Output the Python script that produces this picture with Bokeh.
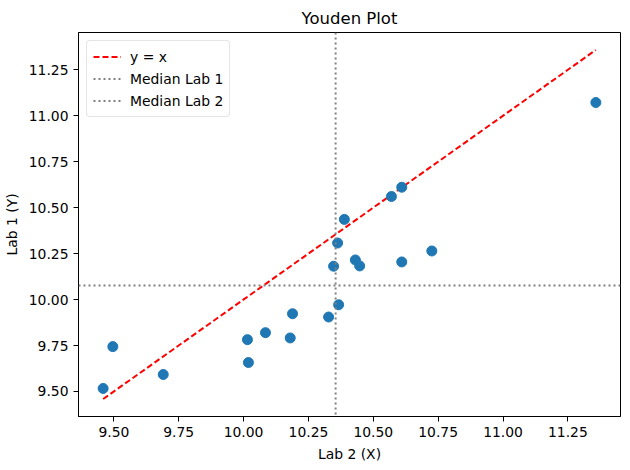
import numpy as np
from bokeh.plotting import figure
from bokeh.models import FixedTicker, PrintfTickFormatter, Range1d, Span, Legend, LegendItem
from bokeh.embed import file_html
from bokeh.resources import INLINE

lab2_x = [9.4587, 9.4961, 9.6904, 10.0149, 10.0187, 10.0844, 10.1798, 10.1887, 10.3277, 10.3664,
          10.3470, 10.3625, 10.3884, 10.4309, 10.4475, 10.5699, 10.6097, 10.6097, 10.7256, 11.3579]
lab1_y = [9.5163, 9.7439, 9.5921, 9.7818, 9.6572, 9.8198, 9.7911, 9.9228, 9.9049, 9.9715,
          10.1813, 10.3076, 10.4360, 10.2154, 10.1829, 10.5607, 10.6111, 10.2046, 10.2642, 11.0718]
x_ticks = [9.50, 9.75, 10.00, 10.25, 10.50, 10.75, 11.00, 11.25]
y_ticks = [9.50, 9.75, 10.00, 10.25, 10.50, 10.75, 11.00, 11.25]

lo = min(min(lab2_x), min(lab1_y))
hi = max(max(lab2_x), max(lab1_y))
pad = 0.05 * (hi - lo)
med1 = float(np.median(lab1_y))
med2 = float(np.median(lab2_x))

FONT = "DejaVu Sans"
p = figure(width=630, height=470, output_backend="svg", toolbar_location=None,
           x_range=Range1d(lo - pad, hi + pad), y_range=Range1d(lo - pad, hi + pad),
           min_border_left=77, min_border_right=10, min_border_top=32, min_border_bottom=54)
p.title.text = "Youden Plot"
p.title.align = "center"
p.title.text_font = FONT
p.title.text_font_size = "16.5px"
p.title.text_font_style = "normal"
p.title.text_color = "black"

p.grid.visible = False
p.outline_line_color = "black"
p.outline_line_width = 1
p.background_fill_color = "white"
p.border_fill_color = "white"

for ax, ticks, lab in ((p.xaxis[0], x_ticks, "Lab 2 (X)"), (p.yaxis[0], y_ticks, "Lab 1 (Y)")):
    ax.ticker = FixedTicker(ticks=ticks)
    ax.formatter = PrintfTickFormatter(format="%.2f")
    ax.axis_label = lab
    ax.axis_label_text_font = FONT
    ax.axis_label_text_font_size = "13.9px"
    ax.axis_label_text_font_style = "normal"
    ax.axis_label_text_color = "black"
    ax.major_label_text_font = FONT
    ax.major_label_text_font_size = "13.9px"
    ax.major_label_text_color = "black"
    ax.major_tick_out = 5
    ax.major_tick_in = 0
    ax.minor_tick_line_color = None
    ax.axis_line_color = "black"
    ax.major_tick_line_color = "black"
p.xaxis.axis_label_standoff = 6
p.yaxis.axis_label_standoff = 6

line = p.line([lo, hi], [lo, hi], line_color="red", line_width=2, line_dash="6 3")
p.scatter(lab2_x, lab1_y, size=10, fill_color="#1f77b4", line_color="#1f77b4")

h = Span(location=med1, dimension="width", line_color="gray", line_width=2, line_dash="2 3")
v = Span(location=med2, dimension="height", line_color="gray", line_width=2, line_dash="2 3")
p.add_layout(h)
p.add_layout(v)

d1 = p.line([lo], [lo], line_color="gray", line_width=2, line_dash="2 3")
d2 = p.line([lo], [lo], line_color="gray", line_width=2, line_dash="2 3")

legend = Legend(items=[LegendItem(label="y = x", renderers=[line]),
                       LegendItem(label="Median Lab 1", renderers=[d1]),
                       LegendItem(label="Median Lab 2", renderers=[d2])],
                location="top_left")
legend.label_text_font = FONT
legend.label_text_font_size = "13.9px"
legend.label_text_color = "black"
legend.border_line_color = "#cccccc"
legend.border_line_width = 1
legend.border_radius = 4
legend.margin = 8
legend.padding = 6
legend.spacing = 3
legend.label_height = 19
legend.glyph_height = 19
legend.glyph_width = 28
legend.label_standoff = 9
p.add_layout(legend)

open("out.html", "w").write(file_html(p, INLINE))
